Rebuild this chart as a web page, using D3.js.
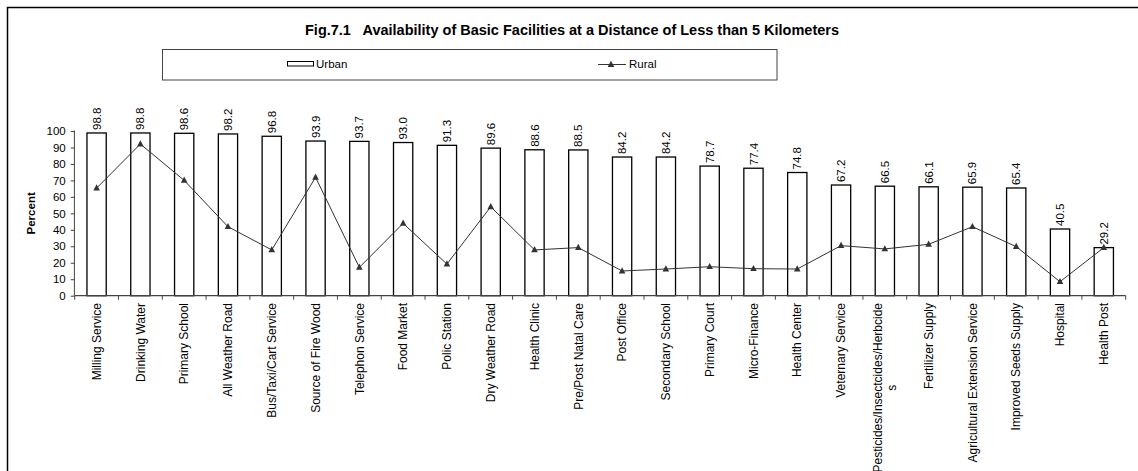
<!DOCTYPE html>
<html>
<head>
<meta charset="utf-8">
<script src="https://cdn.jsdelivr.net/npm/d3@7"></script>
<style>
  html, body { margin: 0; padding: 0; background: #fff; }
  svg { display: block; font-family: Arial, "Liberation Sans", sans-serif; }
</style>
</head>
<body>
<svg id="chart" width="1138" height="471"></svg>
<script>
const categories = [
  "Milling Service", "Drinking Water", "Primary School", "All Weather Road",
  "Bus/Taxi/Cart Service", "Source of Fire Wood", "Telephon Service", "Food Market",
  "Polic Station", "Dry Weather Road", "Health Clinic", "Pre/Post Natal Care",
  "Post Office", "Secondary School", "Primary Court", "Micro-Finance",
  "Health Center", "Veternary Service", "Pesticides/Insectcides/Herbcide|s",
  "Fertilizer Supply", "Agricultural Extension Service", "Improved Seeds Supply",
  "Hospital", "Health Post"
];
const urban = [98.8, 98.8, 98.6, 98.2, 96.8, 93.9, 93.7, 93.0, 91.3, 89.6, 88.6, 88.5,
               84.2, 84.2, 78.7, 77.4, 74.8, 67.2, 66.5, 66.1, 65.9, 65.4, 40.5, 29.2];
const rural = [65.3, 92.1, 70.0, 41.9, 27.8, 71.9, 17.2, 43.9, 19.2, 54.0, 27.8, 29.2,
               15.0, 16.2, 17.6, 16.4, 16.2, 30.4, 28.4, 31.2, 41.9, 29.8, 8.5, 29.2];
const yTicks = [0, 10, 20, 30, 40, 50, 60, 70, 80, 90, 100];
const titleText = "Fig.7.1   Availability of Basic Facilities at a Distance of Less than 5 Kilometers";
const seriesNames = ["Urban", "Rural"];

const svg = d3.select("#chart");
const pLeft = 74.7, pRight = 1125.7, pTop = 131, pBottom = 295.7;

// outer frame (only top and left visible)
svg.append("rect").attr("x", 7.5).attr("y", 7.5).attr("width", 1300).attr("height", 800)
  .attr("fill", "none").attr("stroke", "#000").attr("stroke-width", 1.5);

// title
svg.append("text").attr("x", 572).attr("y", 35).attr("text-anchor", "middle")
  .attr("font-size", 14.5).attr("font-weight", "bold").style("white-space", "pre")
  .text(titleText);

// legend
svg.append("rect").attr("x", 162.5).attr("y", 49.5).attr("width", 614.5).attr("height", 30.5)
  .attr("fill", "#fff").attr("stroke", "#444").attr("stroke-width", 1);
svg.append("rect").attr("x", 287.5).attr("y", 61.5).attr("width", 26).attr("height", 4.5)
  .attr("fill", "#fff").attr("stroke", "#000").attr("stroke-width", 1);
svg.append("text").attr("x", 316).attr("y", 68).attr("font-size", 11.5).text(seriesNames[0]);
svg.append("line").attr("x1", 598).attr("x2", 626).attr("y1", 64.5).attr("y2", 64.5)
  .attr("stroke", "#333").attr("stroke-width", 1);
const tri = "M0,-3.8L3.3,2.4L-3.3,2.4Z";
svg.append("path").attr("d", tri).attr("transform", "translate(611,64.5)").attr("fill", "#333");
svg.append("text").attr("x", 629).attr("y", 68).attr("font-size", 11.5).text(seriesNames[1]);

// scales
const x = d3.scaleBand().domain(categories).range([pLeft, pRight]).padding(0);
const y = d3.scaleLinear().domain([0, 100]).range([pBottom, pTop]);
const bw = x.bandwidth() * 0.44;
const cx = d => x(d) + x.bandwidth() / 2;

// bars
svg.append("g").selectAll("rect").data(categories).join("rect")
  .attr("x", (d) => cx(d) - bw / 2)
  .attr("y", (d, i) => y(urban[i]))
  .attr("width", bw)
  .attr("height", (d, i) => y(0) - y(urban[i]))
  .attr("fill", "#fff").attr("stroke", "#000").attr("stroke-width", 1.3);

// bar value labels
svg.append("g").selectAll("text").data(categories).join("text")
  .attr("transform", (d, i) => `translate(${cx(d)},${y(urban[i]) - 3}) rotate(-90)`)
  .attr("dy", "0.35em").attr("font-size", 11.5)
  .text((d, i) => urban[i].toFixed(1));

// y axis
const yAxis = d3.axisLeft(y).tickValues(yTicks).tickSize(4).tickPadding(5).tickFormat(d3.format("d"));
const yg = svg.append("g").attr("transform", `translate(${pLeft},0)`).call(yAxis);
yg.select(".domain").attr("stroke", "#444").attr("d", `M-0.3,${pBottom}V${pTop - 0.5}`);
yg.selectAll(".tick line").attr("stroke", "#444");
yg.selectAll(".tick text").attr("font-size", 11.5).attr("font-family", "Arial, 'Liberation Sans', sans-serif").attr("fill", "#000");

// x axis line and ticks at band boundaries
svg.append("line").attr("x1", pLeft).attr("x2", pRight).attr("y1", pBottom).attr("y2", pBottom)
  .attr("stroke", "#444").attr("stroke-width", 1.2);
const bounds = categories.map(d => x(d)).concat([pRight]);
svg.append("g").selectAll("line").data(bounds).join("line")
  .attr("x1", d => d).attr("x2", d => d).attr("y1", pBottom).attr("y2", pBottom + 4)
  .attr("stroke", "#444");

// category labels
const lab = svg.append("g").selectAll("text").data(categories).join("text")
  .attr("transform", d => `translate(${cx(d)},303) rotate(-90)`)
  .attr("font-size", 12).attr("text-anchor", "end");
lab.each(function(d) {
  const parts = d.split("|");
  const t = d3.select(this);
  if (parts.length === 1) {
    t.append("tspan").attr("x", 0).attr("dy", "0.35em").text(d);
  } else {
    t.append("tspan").attr("x", 0).attr("dy", "-0.2em").text(parts[0]);
    const w = this.getComputedTextLength();
    t.append("tspan").attr("x", -w / 2).attr("dy", "1.15em").attr("text-anchor", "middle").text(parts[1]);
  }
});

// rural line
const line = d3.line().x((d, i) => cx(categories[i])).y(d => y(d));
svg.append("path").datum(rural).attr("d", line).attr("fill", "none")
  .attr("stroke", "#333").attr("stroke-width", 1);
svg.append("g").selectAll("path").data(rural).join("path")
  .attr("d", tri).attr("fill", "#333")
  .attr("transform", (d, i) => `translate(${cx(categories[i])},${y(d)})`);

// y label
svg.append("text").attr("transform", `translate(35,${(pTop + pBottom) / 2}) rotate(-90)`)
  .attr("text-anchor", "middle").attr("font-size", 11.5).attr("font-weight", "bold").text("Percent");
</script>
</body>
</html>
